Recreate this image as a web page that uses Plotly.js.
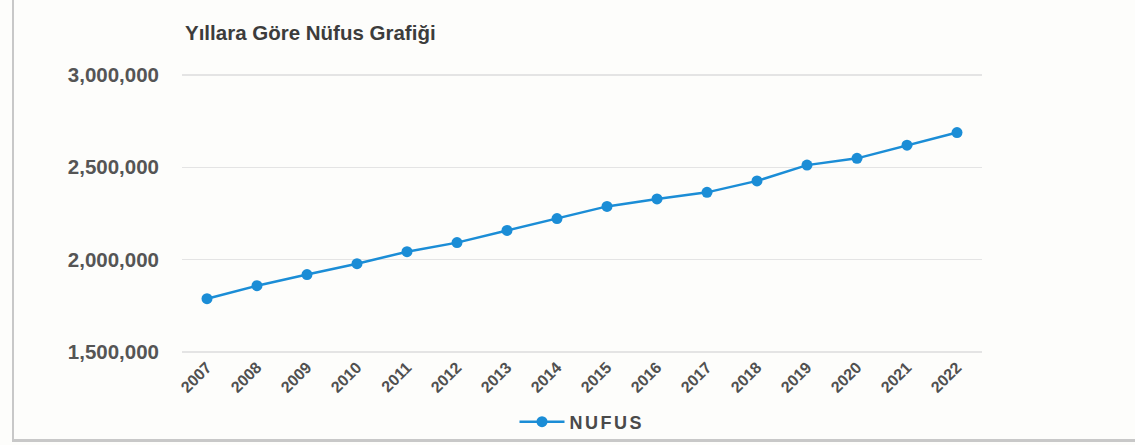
<!DOCTYPE html>
<html>
<head>
<meta charset="utf-8">
<script src="https://cdn.plot.ly/plotly-3.0.1.min.js"></script>
<style>
  html, body { margin: 0; padding: 0; background: #fdfdfb; }
  #wrap { position: relative; width: 1135px; height: 445px; }
  #chart { width: 1135px; height: 445px; }
  #frame { position: absolute; left: 12px; top: -2px; width: 1130px; height: 441px;
           border-left: 2px solid #c8c8c8; border-bottom: 3px solid #c8c8c8; pointer-events: none; }
  .legendtext { letter-spacing: 2.5px; }
</style>
</head>
<body>
<div id="wrap">
  <div id="chart"></div>
  <div id="frame"></div>
</div>
<script>
const years = ['2007','2008','2009','2010','2011','2012','2013','2014','2015','2016','2017','2018','2019','2020','2021','2022'];
const nufus = [1789295, 1859275, 1919729, 1978333, 2043482, 2092537, 2158265, 2222562, 2288456, 2328555, 2364396, 2426356, 2511700, 2548308, 2619832, 2688004];
const yTicks = [1500000, 2000000, 2500000, 3000000];
const yTickLabels = ['1,500,000', '2,000,000', '2,500,000', '3,000,000'];
const seriesName = 'NUFUS';
const chartTitle = 'Yıllara Göre Nüfus Grafiği';

const trace = {
  type: 'scatter',
  mode: 'lines+markers',
  x: years,
  y: nufus,
  name: seriesName,
  line: { color: '#1b8dd6', width: 2.5 },
  marker: { color: '#1b8dd6', size: 11 }
};

const layout = {
  width: 1135,
  height: 445,
  paper_bgcolor: '#fdfdfb',
  plot_bgcolor: '#fdfdfb',
  font: { family: 'Liberation Sans, Arial, sans-serif', color: '#505050' },
  margin: { l: 182, r: 153, t: 73, b: 91 },
  title: {
    text: '<b>' + chartTitle + '</b>',
    x: 185 / 1135, xanchor: 'left', xref: 'container',
    y: 1 - 33 / 445, yanchor: 'middle', yref: 'container',
    font: { size: 20.5, color: '#3c3c3c' }
  },
  xaxis: {
    type: 'category',
    range: [-0.5, years.length - 0.5],
    tickangle: -45,
    tickfont: { size: 16, color: '#505050', weight: 'bold' },
    showgrid: false,
    zeroline: false,
    showline: false,
    ticks: ''
  },
  yaxis: {
    range: [1490000, 3010000],
    tickvals: yTicks,
    ticktext: yTickLabels,
    tickfont: { size: 20.5, color: '#555555', weight: 'bold' },
    gridcolor: '#e4e4e4',
    gridwidth: 1.5,
    zeroline: false,
    showline: false,
    ticklabelstandoff: 22
  },
  showlegend: true,
  legend: {
    orientation: 'h',
    x: 0.5, xanchor: 'center',
    y: 1 - 422 / 445, yanchor: 'middle', yref: 'container',
    itemwidth: 45,
    font: { size: 18, color: '#4a4a4a', family: 'Liberation Sans, Arial, sans-serif', weight: 'bold' },
    bgcolor: 'rgba(0,0,0,0)'
  }
};

Plotly.newPlot('chart', [trace], layout, { displayModeBar: false, staticPlot: true });
</script>
</body>
</html>
